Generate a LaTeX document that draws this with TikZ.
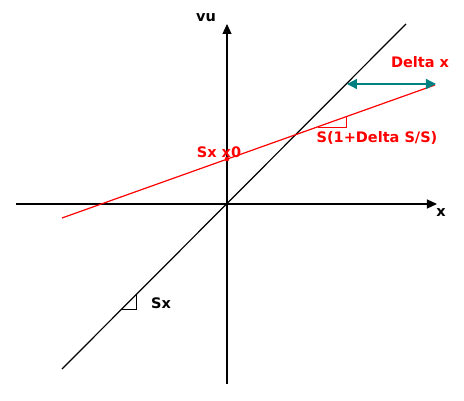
\documentclass[tikz,border=0pt]{standalone}
\usepackage{fontspec}
\setmainfont{DejaVu Sans}
\usetikzlibrary{arrows.meta}
\definecolor{slred}{RGB}{255,0,0}
\definecolor{slteal}{RGB}{0,128,128}

\tikzset{
  lbl/.style={font=\fontsize{14.5}{17}\selectfont\bfseries, inner sep=0pt},
  axis/.style={black, line width=1.2pt, -{Triangle[length=10pt, width=9pt]}},
}

\begin{document}
\begin{tikzpicture}[x=1pt, y=1pt]

\useasboundingbox (-227,-197) rectangle (237,204);

% Axes
\draw[axis] (-211,0) -- (210,0);
\draw[axis] (0,-180) -- (0,180);
\node[lbl] (vu) at (-21,186) {vu};
\node[lbl] (xl) at (214,-9) {x};

% Black line through the origin, slope Sx
\draw[black, line width=1.2pt] (-165,-165) -- (179,180);
\draw[black, line width=0.9pt] (-105,-105) -- (-91,-105) -- (-91,-91);
\node[lbl] (sx) at (-66,-99) {Sx};

% Red line, slope S(1+Delta S/S)
\coordinate (rstart) at (-165,-14);
\coordinate (rend) at (208,119);
\draw[slred, line width=1.2pt] (rstart) -- (rend);
\fill[slred] (0,45) circle (2.3pt);
\node[lbl, text=slred] (sx0) at (-8,52) {Sx x0};
\draw[slred, line width=0.9pt] (91,77) -- (119,77) -- (119,87);
\node[lbl, text=slred] (slope) at (150,66) {S(1+Delta S/S)};

% Delta x arrow
\coordinate (dxl) at (120,120);
\coordinate (dxr) at (209,120);
\draw[slteal, line width=1.3pt, {Triangle[length=10pt, width=10pt]}-{Triangle[length=10pt, width=10pt]}] (dxl) -- (dxr);
\node[lbl, text=slred] (dx) at (193,142) {Delta x};

\end{tikzpicture}
\end{document}
